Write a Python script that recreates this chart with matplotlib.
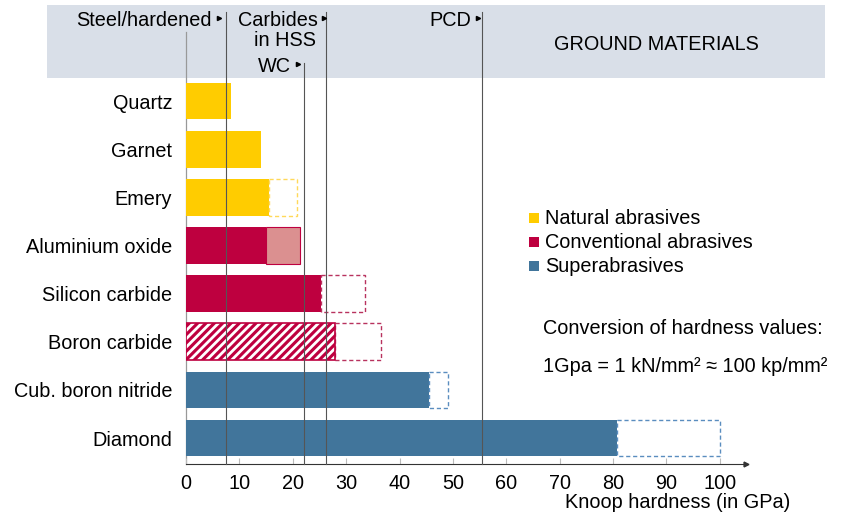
import matplotlib
matplotlib.use("Agg")
import matplotlib.pyplot as plt
from matplotlib.patches import Rectangle
from matplotlib.lines import Line2D
from matplotlib.transforms import blended_transform_factory

plt.rcParams['font.family'] = ['Liberation Sans', 'DejaVu Sans']
plt.rcParams['hatch.linewidth'] = 2.0

# ---- data ----
categories = ['Quartz', 'Garnet', 'Emery', 'Aluminium oxide', 'Silicon carbide',
              'Boron carbide', 'Cub. boron nitride', 'Diamond']
hardness_low = [8.4, 14.0, 15.5, 15.0, 25.3, 28.0, 45.5, 80.7]
hardness_high = [None, None, 20.8, 21.3, 33.5, 36.5, 49.0, 100.0]
range_style = ['none', 'none', 'dashed', 'filled', 'dashed', 'dashed', 'dashed', 'dashed']
groups = ['natural', 'natural', 'natural', 'conventional', 'conventional',
          'conventional', 'super', 'super']
hatched = [False, False, False, False, False, True, False, False]

materials = ['Steel/hardened', 'Carbides\nin HSS', 'WC', 'PCD']
material_hardness = [7.5, 26.2, 22.1, 55.4]

xticks = [0, 10, 20, 30, 40, 50, 60, 70, 80, 90, 100]
legend_labels = ['Natural abrasives', 'Conventional abrasives', 'Superabrasives']

colors = {'natural': '#FFCC00', 'conventional': '#BE003F', 'super': '#41759B'}
dash_colors = {'natural': '#FFD95A', 'conventional': '#B8325E', 'super': '#5A8DBF'}
light_fill = '#DB9090'

W, H = 846, 514
fig = plt.figure(figsize=(W / 100, H / 100), dpi=100)

def fx(px):
    return px / W

def fy(py):
    return 1 - py / H

FS = 14.3

# header band
fig.add_artist(Rectangle((fx(47), fy(78)), fx(825) - fx(47), fy(5) - fy(78),
                         transform=fig.transFigure, facecolor='#D9DFE8',
                         edgecolor='none', zorder=0))

ax = fig.add_axes([fx(186), fy(464), fx(746) - fx(186), fy(78) - fy(464)])
ax.set_xlim(0, 104.9)
ax.set_ylim(len(categories) - 0.46, -0.48)
ax.patch.set_alpha(0)
for s in ['top', 'right', 'left']:
    ax.spines[s].set_visible(False)
ax.spines['bottom'].set_color('#333333')
ax.spines['bottom'].set_linewidth(0.8)

bh = 0.76
for i, cat in enumerate(categories):
    g = groups[i]
    lo = hardness_low[i]
    if hatched[i]:
        ax.barh(i, lo, height=bh, color=colors[g], edgecolor='white', hatch='////',
                linewidth=0, zorder=2)
        ax.barh(i, lo, height=bh, fill=False, edgecolor=colors[g], linewidth=1.2, zorder=3)
    else:
        ax.barh(i, lo, height=bh, color=colors[g], edgecolor='none', zorder=2)
    hi = hardness_high[i]
    if hi is not None:
        if range_style[i] == 'filled':
            ax.barh(i, hi - lo, left=lo, height=bh, color=light_fill,
                    edgecolor=colors[g], linewidth=0.8, zorder=2)
        else:
            ax.barh(i, hi - lo, left=lo, height=bh, fill=False,
                    edgecolor=dash_colors[g], linewidth=1.0, linestyle=(0, (3, 2)),
                    zorder=2)

ax.set_yticks(range(len(categories)))
ax.set_yticklabels(categories, fontsize=FS)
ax.tick_params(axis='y', length=0, pad=10)
ax.set_xticks(xticks)
ax.set_xticklabels([str(t) for t in xticks], fontsize=FS)
ax.tick_params(axis='x', direction='in', length=4, color='#BBBBBB', pad=7)

# arrow at end of axis
fig.add_artist(Line2D([fx(746)], [fy(464)], marker='>', markersize=3.5,
                      color='#333333', transform=fig.transFigure))

# vertical lines
trans = blended_transform_factory(ax.transData, fig.transFigure)
ax.plot([0, 0], [fy(464), fy(32)], color='#999999', lw=0.9, transform=trans,
        clip_on=False, zorder=1)
tops = [12, 12, 63, 12]
for m, x, t in zip(materials, material_hardness, tops):
    ax.plot([x, x], [fy(464), fy(t)], color='#555555', lw=0.8, transform=trans,
            clip_on=False, zorder=4)

# header texts
fig.text(fx(212), fy(20), 'Steel/hardened', ha='right', va='center', fontsize=FS)
fig.text(fx(318), fy(20), 'Carbides', ha='right', va='center', fontsize=FS)
fig.text(fx(316), fy(40), 'in HSS', ha='right', va='center', fontsize=FS)
fig.text(fx(291), fy(67), 'WC', ha='right', va='center', fontsize=FS)
fig.text(fx(471), fy(20), 'PCD', ha='right', va='center', fontsize=FS)
fig.text(fx(656), fy(45), 'GROUND MATERIALS', ha='center', va='center', fontsize=FS)
for px, py in [(219, 18), (324, 18), (298, 64), (478, 18)]:
    fig.add_artist(Line2D([fx(px)], [fy(py)], marker='>', markersize=3,
                          color='black', transform=fig.transFigure))

# legend
for lab, g, py in zip(legend_labels, ['natural', 'conventional', 'super'], [218, 242, 266]):
    fig.add_artist(Rectangle((fx(529), fy(py + 5)), fx(539) - fx(529), fy(py - 5) - fy(py + 5),
                             transform=fig.transFigure, facecolor=colors[g], edgecolor='none'))
    fig.text(fx(545), fy(py), lab, ha='left', va='center', fontsize=FS)

fig.text(fx(543), fy(328), 'Conversion of hardness values:', ha='left', va='center', fontsize=FS)
fig.text(fx(543), fy(366), '1Gpa = 1 kN/mm\u00b2 \u2248 100 kp/mm\u00b2', ha='left', va='center',
         fontsize=FS)

fig.text(fx(790), fy(503), 'Knoop hardness (in GPa)', ha='right', va='center', fontsize=FS)

fig.savefig('out.png', dpi=100)
